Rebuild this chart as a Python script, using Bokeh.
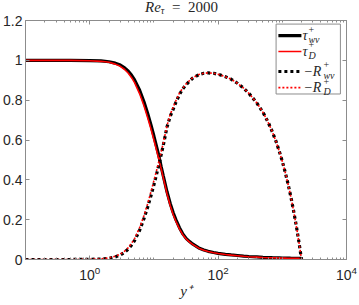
from bokeh.plotting import figure
from bokeh.models import Range1d, LinearAxis, LogAxis, FixedTicker, Label, Div
from bokeh.layouts import column
from bokeh.embed import file_html
from bokeh.resources import INLINE

# ---------------- data ----------------
yplus = [0.1, 0.2, 0.5, 1, 1.5, 2, 2.5, 3, 3.5, 4, 4.5, 5, 6, 7, 8, 9, 10, 11, 12, 13,
         14, 16, 18, 20, 22, 25, 28, 32, 36, 40, 50, 60, 70, 85, 100, 130, 160, 200,
         250, 300, 400, 500, 600, 700, 800, 900, 1000, 1100, 1200, 1300, 1400, 1500,
         1600, 1700, 1800, 1900, 1950, 2000]

tau_wv = [1.000, 1.000, 1.000, 0.999, 0.997, 0.993, 0.986, 0.976, 0.962, 0.945, 0.925,
          0.902, 0.850, 0.792, 0.733, 0.676, 0.620, 0.567, 0.518, 0.465, 0.420, 0.340,
          0.280, 0.235, 0.200, 0.160, 0.130, 0.105, 0.090, 0.078, 0.058, 0.048, 0.041,
          0.035, 0.031, 0.026, 0.023, 0.020, 0.017, 0.015, 0.013, 0.011, 0.010, 0.009,
          0.0085, 0.008, 0.0075, 0.007, 0.0068, 0.0066, 0.0064, 0.0062, 0.006, 0.0058,
          0.0056, 0.0054, 0.0052, 0.005]

tau_d = [1.000, 1.000, 1.000, 0.998, 0.995, 0.990, 0.981, 0.970, 0.954, 0.935, 0.913,
         0.888, 0.832, 0.772, 0.712, 0.655, 0.600, 0.548, 0.500, 0.455, 0.410, 0.330,
         0.270, 0.225, 0.192, 0.154, 0.126, 0.102, 0.087, 0.076, 0.057, 0.047, 0.040,
         0.034, 0.030, 0.025, 0.022, 0.019, 0.016, 0.014, 0.012, 0.010, 0.009, 0.0085,
         0.008, 0.0075, 0.007, 0.0068, 0.0066, 0.0064, 0.0062, 0.006, 0.0058, 0.0056,
         0.0054, 0.0052, 0.005, 0.005]

r_wv = [0.000, 0.000, 0.000, 0.001, 0.002, 0.006, 0.013, 0.023, 0.036, 0.053, 0.073,
        0.095, 0.147, 0.205, 0.263, 0.320, 0.375, 0.428, 0.476, 0.528, 0.573, 0.665,
        0.720, 0.755, 0.789, 0.828, 0.856, 0.879, 0.896, 0.910, 0.928, 0.935, 0.937,
        0.935, 0.930, 0.918, 0.905, 0.885, 0.860, 0.835, 0.787, 0.739, 0.690, 0.641,
        0.592, 0.542, 0.493, 0.443, 0.393, 0.344, 0.294, 0.244, 0.194, 0.145, 0.095,
        0.045, 0.020, 0.000]

r_d = [0.000, 0.000, 0.000, 0.001, 0.003, 0.008, 0.016, 0.027, 0.042, 0.060, 0.082,
       0.105, 0.160, 0.220, 0.280, 0.340, 0.395, 0.447, 0.495, 0.540, 0.585, 0.672,
       0.730, 0.765, 0.797, 0.835, 0.860, 0.883, 0.899, 0.912, 0.929, 0.935, 0.937,
       0.935, 0.930, 0.918, 0.905, 0.885, 0.860, 0.835, 0.787, 0.739, 0.690, 0.641,
       0.592, 0.542, 0.493, 0.443, 0.393, 0.344, 0.294, 0.244, 0.194, 0.145, 0.095,
       0.045, 0.020, 0.000]

x_major = [1, 100, 10000]
y_ticks = [0, 0.2, 0.4, 0.6, 0.8, 1.0, 1.2]
y_tick_labels = ["0", "0.2", "0.4", "0.6", "0.8", "1", "1.2"]

# ---------------- figure ----------------
AX = "#8c8c8c"
TXT = "#262626"
SERIF = "Liberation Serif"
TITLE_H = 15

p = figure(width=359, height=305 - TITLE_H, x_axis_type="log",
           x_range=Range1d(0.1, 1e4), y_range=Range1d(0, 1.2),
           output_backend="svg", toolbar_location=None,
           min_border_left=25, min_border_right=13, min_border_top=5, min_border_bottom=46)
p.xgrid.visible = False
p.ygrid.visible = False
p.outline_line_color = AX
p.background_fill_color = "white"
p.border_fill_color = "white"

minor = []
for e in range(-1, 4):
    for k in range(1, 10):
        v = k * 10 ** e
        if v not in x_major and v > 0.1:
            minor.append(v)
minor.append(10000)

def style_common(ax):
    ax.axis_line_color = AX
    ax.major_tick_line_color = AX
    ax.minor_tick_line_color = AX
    ax.major_tick_in = 4
    ax.major_tick_out = 0
    ax.minor_tick_in = 2
    ax.minor_tick_out = 0

def blank_labels(ax, ticks):
    ax.major_label_overrides = {t: "" for t in ticks}
    ax.major_label_text_font_size = "1px"
    ax.major_label_standoff = 0

def style_x(ax, labels=True):
    ax.ticker = FixedTicker(ticks=x_major, minor_ticks=minor)
    style_common(ax)
    if labels:
        ax.major_label_text_font = "Liberation Sans"
        ax.major_label_text_font_size = "14px"
        ax.major_label_text_color = TXT
        ax.major_label_standoff = 6
    else:
        blank_labels(ax, x_major)

def style_y(ax, labels=True):
    ax.ticker = FixedTicker(ticks=y_ticks, minor_ticks=[])
    style_common(ax)
    ax.minor_tick_line_color = None
    if labels:
        ax.major_label_overrides = {t: s for t, s in zip(y_ticks, y_tick_labels)}
        ax.major_label_text_font = "Liberation Sans"
        ax.major_label_text_font_size = "14px"
        ax.major_label_text_color = TXT
        ax.major_label_standoff = 3
    else:
        blank_labels(ax, y_ticks)

style_x(p.xaxis[0])
style_y(p.yaxis[0])
p.xaxis[0].axis_label = "y\u207a"
p.xaxis[0].axis_label_text_font = SERIF
p.xaxis[0].axis_label_text_font_style = "italic"
p.xaxis[0].axis_label_text_font_size = "15px"
p.xaxis[0].axis_label_text_color = TXT
p.xaxis[0].axis_label_standoff = 0

top = LogAxis()
style_x(top, labels=False)
p.add_layout(top, "above")
right = LinearAxis()
style_y(right, labels=False)
p.add_layout(right, "right")

# ---------------- data lines ----------------
p.line(yplus, tau_wv, line_color="black", line_width=3.2)
p.line(yplus, tau_d, line_color="#ff0000", line_width=1.6)
p.line(yplus, r_wv, line_color="black", line_width=3.2, line_dash="3 3")
p.line(yplus, r_d, line_color="#ff0000", line_width=1.6, line_dash="2 2")

# ---------------- legend (custom, to allow sub/superscripts) ----------------
p.quad(left=[800], right=[8035], bottom=[0.831], top=[1.182],
       fill_color="white", line_color=AX, line_width=1)
rows = [1.124, 1.044, 0.944, 0.863]
styles = [("black", 3.2, "solid"), ("#ff0000", 1.6, "solid"),
          ("black", 3.2, "3 3"), ("#ff0000", 1.6, "2 2")]
mains = ["\u03c4", "\u03c4", "\u2212R", "\u2212R"]
main_x = [2056, 2056, 2133, 2133]
subs = ["wv", "D", "wv", "D"]
sub_x = [2553, 2553, 4365, 4365]
for r, (c, w, d), m, mx, s, sx in zip(rows, styles, mains, main_x, subs, sub_x):
    p.line([869, 1985], [r, r], line_color=c, line_width=w, line_dash=d)
    p.add_layout(Label(x=mx, y=r, text=m, text_font=SERIF, text_font_style="italic",
                       text_font_size="14px", text_baseline="middle", text_color=TXT))
    p.add_layout(Label(x=sx, y=r + 0.033, text="+", text_font=SERIF,
                       text_font_size="10px", text_baseline="middle", text_color=TXT))
    p.add_layout(Label(x=sx, y=r - 0.02, text=s, text_font=SERIF, text_font_style="italic",
                       text_font_size="10px", text_baseline="middle", text_color=TXT))

# ---------------- title (HTML text so that the subscript can be shown) ----------------
title_html = (
    '<div style="font-family:\'Liberation Serif\';font-size:15px;color:#262626;'
    'white-space:nowrap;padding-left:145px;line-height:15px;overflow:visible;">'
    '<i>Re</i><span style="font-size:10px;font-style:italic;position:relative;top:2px;">'
    '\u03c4</span>&ensp;=&ensp;2000</div>'
)
title = Div(text=title_html, width=359, height=TITLE_H, margin=(0, 0, 0, 0))

layout = column(title, p, spacing=0, margin=(0, 0, 0, 0))
open("out.html", "w").write(file_html(layout, INLINE))
